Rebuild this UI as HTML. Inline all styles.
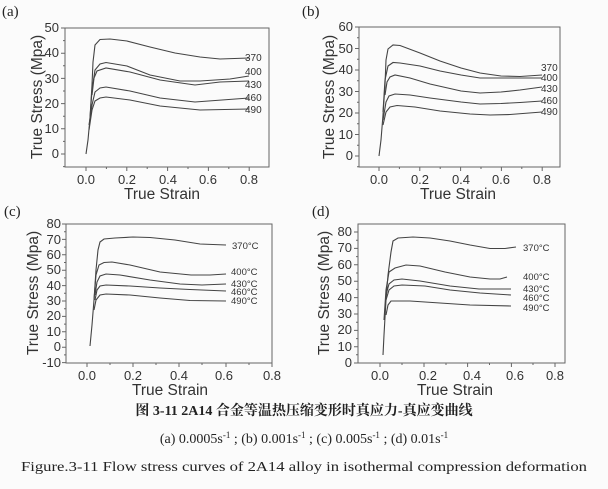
<!DOCTYPE html>
<html><head><meta charset="utf-8"><style>
html,body{margin:0;padding:0;background:#fbfbfb;}
svg{display:block}
.t{font-family:"Liberation Sans",Arial,sans-serif;fill:#333}
.s{font-family:"Liberation Serif","Noto Serif CJK SC",serif;fill:#222}
.c{fill:none;stroke:#444;stroke-width:1.1}
.f{fill:none;stroke:#666;stroke-width:1}
</style></head><body>
<svg width="608" height="489" viewBox="0 0 608 489" xmlns="http://www.w3.org/2000/svg">
<text class="s" x="2" y="16" font-size="15">(a)</text>
<text class="s" x="302" y="16" font-size="15">(b)</text>
<text class="s" x="4" y="216" font-size="15">(c)</text>
<text class="s" x="312" y="216" font-size="15">(d)</text>

<!-- ===== Panel A ===== -->
<rect class="f" x="65" y="28" width="204" height="139"/>
<g stroke="#666" stroke-width="1">
<path d="M65 28h-4M65 53.2h-4M65 78.4h-4M65 103.6h-4M65 128.8h-4M65 154h-4M65 40.6h-2M65 65.8h-2M65 91h-2M65 116.2h-2M65 141.4h-2M65 166.6h-2"/>
<path d="M86 167v4M126.8 167v4M167.6 167v4M208.4 167v4M249.2 167v4M106.4 167v2M147.2 167v2M188 167v2M228.8 167v2"/>
</g>
<g class="t" font-size="13" text-anchor="end">
<text x="59" y="32">50</text><text x="59" y="57">40</text><text x="59" y="83">30</text><text x="59" y="108">20</text><text x="59" y="133">10</text><text x="59" y="158">0</text>
</g>
<g class="t" font-size="13" text-anchor="middle">
<text x="86" y="184">0.0</text><text x="127" y="184">0.2</text><text x="168" y="184">0.4</text><text x="208" y="184">0.6</text><text x="249" y="184">0.8</text>
</g>
<text class="t" x="162" y="199" font-size="15.5" text-anchor="middle">True Strain</text>
<text class="t" font-size="15.5" text-anchor="middle" transform="translate(42,97) rotate(-90)">True Stress (Mpa)</text>
<polyline class="c" points="86,154 88,140 90,118 92,85 93,62 95,45 100,39.5 110,39 127,41 150,47 175,53 200,57 220,59 249,58"/>
<polyline class="c" points="90,118 92,90 95,70 100,64 106,62.5 127,66 150,75 180,81 200,81 230,79 249,76"/>
<polyline class="c" points="92,95 94,78 97,71 106,68 130,72 160,80 195,85 220,82 249,81"/>
<polyline class="c" points="89,125 92,105 95,92 100,88 106,87 130,91 160,98 195,102 249,98"/>
<polyline class="c" points="89,130 92,110 95,101 100,98 106,97 130,100 160,106 200,110 249,109"/>
<g class="t" font-size="10"><text x="245" y="61">370</text><text x="245" y="75">400</text><text x="245" y="88">430</text><text x="245" y="101">460</text><text x="245" y="113">490</text></g>

<!-- ===== Panel B ===== -->
<rect class="f" x="359" y="27" width="201" height="140"/>
<g stroke="#666" stroke-width="1">
<path d="M359 27h-4M359 48.5h-4M359 70h-4M359 91.5h-4M359 113h-4M359 134.5h-4M359 156h-4M359 37.75h-2M359 59.25h-2M359 80.75h-2M359 102.25h-2M359 123.75h-2M359 145.25h-2M359 166.75h-2"/>
<path d="M379 167v4M419.8 167v4M460.6 167v4M501.4 167v4M542.2 167v4M399.4 167v2M440.2 167v2M481 167v2M521.8 167v2"/>
</g>
<g class="t" font-size="13" text-anchor="end">
<text x="353" y="31">60</text><text x="353" y="53">50</text><text x="353" y="74">40</text><text x="353" y="96">30</text><text x="353" y="117">20</text><text x="353" y="139">10</text><text x="353" y="160">0</text>
</g>
<g class="t" font-size="13" text-anchor="middle">
<text x="379" y="184">0.0</text><text x="420" y="184">0.2</text><text x="461" y="184">0.4</text><text x="501" y="184">0.6</text><text x="542" y="184">0.8</text>
</g>
<text class="t" x="458" y="199" font-size="15.5" text-anchor="middle">True Strain</text>
<text class="t" font-size="15.5" text-anchor="middle" transform="translate(334,97) rotate(-90)">True Stress (Mpa)</text>
<polyline class="c" points="379,156 381,140 383,115 385,85 386,60 388,49 393,45 400,45.5 420,53 440,61 461,68 480,73 501,76 520,76.5 542,75"/>
<polyline class="c" points="383,112 385,80 388,66 393,62.5 400,63 420,66 440,71 461,75 480,78 501,78 520,78 542,78"/>
<polyline class="c" points="385,95 387,82 390,77 395,75 410,78 430,84 461,91 480,93 501,92 520,90 542,87"/>
<polyline class="c" points="383,120 386,102 389,96 395,94 410,95 430,98 461,102 480,104 501,103.5 520,102.5 542,101"/>
<polyline class="c" points="383,125 386,112 390,107 397,105.5 415,107 440,111 470,114 490,115 510,114.5 542,112"/>
<g class="t" font-size="10"><text x="541" y="71">370</text><text x="541" y="81">400</text><text x="541" y="92">430</text><text x="541" y="104">460</text><text x="541" y="115">490</text></g>

<!-- ===== Panel C ===== -->
<rect class="f" x="66" y="224" width="206" height="139"/>
<g stroke="#666" stroke-width="1">
<path d="M66 224h-4M66 239.4h-4M66 254.8h-4M66 270.2h-4M66 285.6h-4M66 301h-4M66 316.4h-4M66 331.8h-4M66 347.2h-4M66 362.6h-4M66 231.7h-2M66 247.1h-2M66 262.5h-2M66 277.9h-2M66 293.3h-2M66 308.7h-2M66 324.1h-2M66 339.5h-2M66 354.9h-2"/>
<path d="M87 363v4M133 363v4M179 363v4M226 363v4M272 363v4M110 363v2M156 363v2M202 363v2M249 363v2"/>
</g>
<g class="t" font-size="13" text-anchor="end">
<text x="61" y="228">80</text><text x="61" y="244">70</text><text x="61" y="259">60</text><text x="61" y="274">50</text><text x="61" y="290">40</text><text x="61" y="305">30</text><text x="61" y="320">20</text><text x="61" y="336">10</text><text x="61" y="351">0</text><text x="61" y="367">-10</text>
</g>
<g class="t" font-size="13" text-anchor="middle">
<text x="87" y="380">0.0</text><text x="133" y="380">0.2</text><text x="179" y="380">0.4</text><text x="224" y="380">0.6</text><text x="272" y="380">0.8</text>
</g>
<text class="t" x="170" y="395" font-size="15.5" text-anchor="middle">True Strain</text>
<text class="t" font-size="15.5" text-anchor="middle" transform="translate(38,293) rotate(-90)">True Stress (Mpa)</text>
<polyline class="c" points="90,346 92,325 94,300 96,270 98,250 100,242 104,239 115,238 133,237 150,237.5 175,240 200,244 226,245"/>
<polyline class="c" points="94,300 96,275 99,265 104,262.5 112,262 130,265 160,272 191,275 210,275 226,274"/>
<polyline class="c" points="95,295 97,282 100,276 106,274 120,275 150,280 180,284 202,285 226,284"/>
<polyline class="c" points="95,300 97,290 100,286 106,285 130,286 160,288 190,289.5 226,291"/>
<polyline class="c" points="94,310 96,300 100,295 106,294 130,295 160,298 190,300.5 226,301"/>
<g class="t" font-size="9.5"><text x="232" y="249">370°C</text><text x="231" y="275">400°C</text><text x="231" y="287">430°C</text><text x="231" y="295">460°C</text><text x="231" y="304">490°C</text></g>

<!-- ===== Panel D ===== -->
<rect class="f" x="358" y="224" width="207" height="139"/>
<g stroke="#666" stroke-width="1">
<path d="M358 232h-4M358 248.4h-4M358 264.8h-4M358 281.2h-4M358 297.6h-4M358 314h-4M358 330.4h-4M358 346.8h-4M358 363h-4M358 240.2h-2M358 256.6h-2M358 273h-2M358 289.4h-2M358 305.8h-2M358 322.2h-2M358 338.6h-2M358 354.8h-2"/>
<path d="M380 363v4M424 363v4M467.6 363v4M511.4 363v4M555 363v4M402 363v2M446 363v2M489.5 363v2M533 363v2"/>
</g>
<g class="t" font-size="13" text-anchor="end">
<text x="352" y="236">80</text><text x="352" y="252">70</text><text x="352" y="269">60</text><text x="352" y="285">50</text><text x="352" y="302">40</text><text x="352" y="318">30</text><text x="352" y="334">20</text><text x="352" y="351">10</text><text x="352" y="367">0</text>
</g>
<g class="t" font-size="13" text-anchor="middle">
<text x="380" y="380">0.0</text><text x="428" y="380">0.2</text><text x="472" y="380">0.4</text><text x="515" y="380">0.6</text><text x="555" y="380">0.8</text>
</g>
<text class="t" x="455" y="395" font-size="15.5" text-anchor="middle">True Strain</text>
<text class="t" font-size="15.5" text-anchor="middle" transform="translate(329,293) rotate(-90)">True Stress (Mpa)</text>
<polyline class="c" points="383,355 384,335 386,300 388,275 391,252 393,241 398,238 413,237 430,238 450,241 470,245 490,248.5 505,248.5 516,247"/>
<polyline class="c" points="384,320 386,290 389,272 395,268 406,265 420,266 445,272 470,277 490,279 500,279 507,277"/>
<polyline class="c" points="386,295 389,284 394,280 402,279 420,281 450,286 479,289 511,289"/>
<polyline class="c" points="386,300 389,290 394,286 402,285 425,286 450,290 480,293 511,295"/>
<polyline class="c" points="386,315 388,305 391,301 410,301 440,303 470,305 511,306"/>
<g class="t" font-size="9.5"><text x="523" y="251">370°C</text><text x="523" y="280">400°C</text><text x="523" y="292">430°C</text><text x="523" y="301">460°C</text><text x="523" y="311">490°C</text></g>

<text class="s" x="304" y="415" font-size="14" text-anchor="middle" font-weight="bold">图 3-11 2A14 合金等温热压缩变形时真应力-真应变曲线</text>
<text class="s" x="304" y="443" font-size="14" text-anchor="middle">(a) 0.0005s<tspan font-size="9" dy="-5">-1</tspan><tspan dy="5"> ;  (b) 0.001s</tspan><tspan font-size="9" dy="-5">-1</tspan><tspan dy="5"> ;  (c) 0.005s</tspan><tspan font-size="9" dy="-5">-1</tspan><tspan dy="5"> ;  (d) 0.01s</tspan><tspan font-size="9" dy="-5">-1</tspan></text>
<text class="s" x="304" y="471" font-size="13.5" text-anchor="middle" textLength="566" lengthAdjust="spacingAndGlyphs">Figure.3-11 Flow stress curves of 2A14 alloy in isothermal compression deformation</text>
</svg>
</body></html>
